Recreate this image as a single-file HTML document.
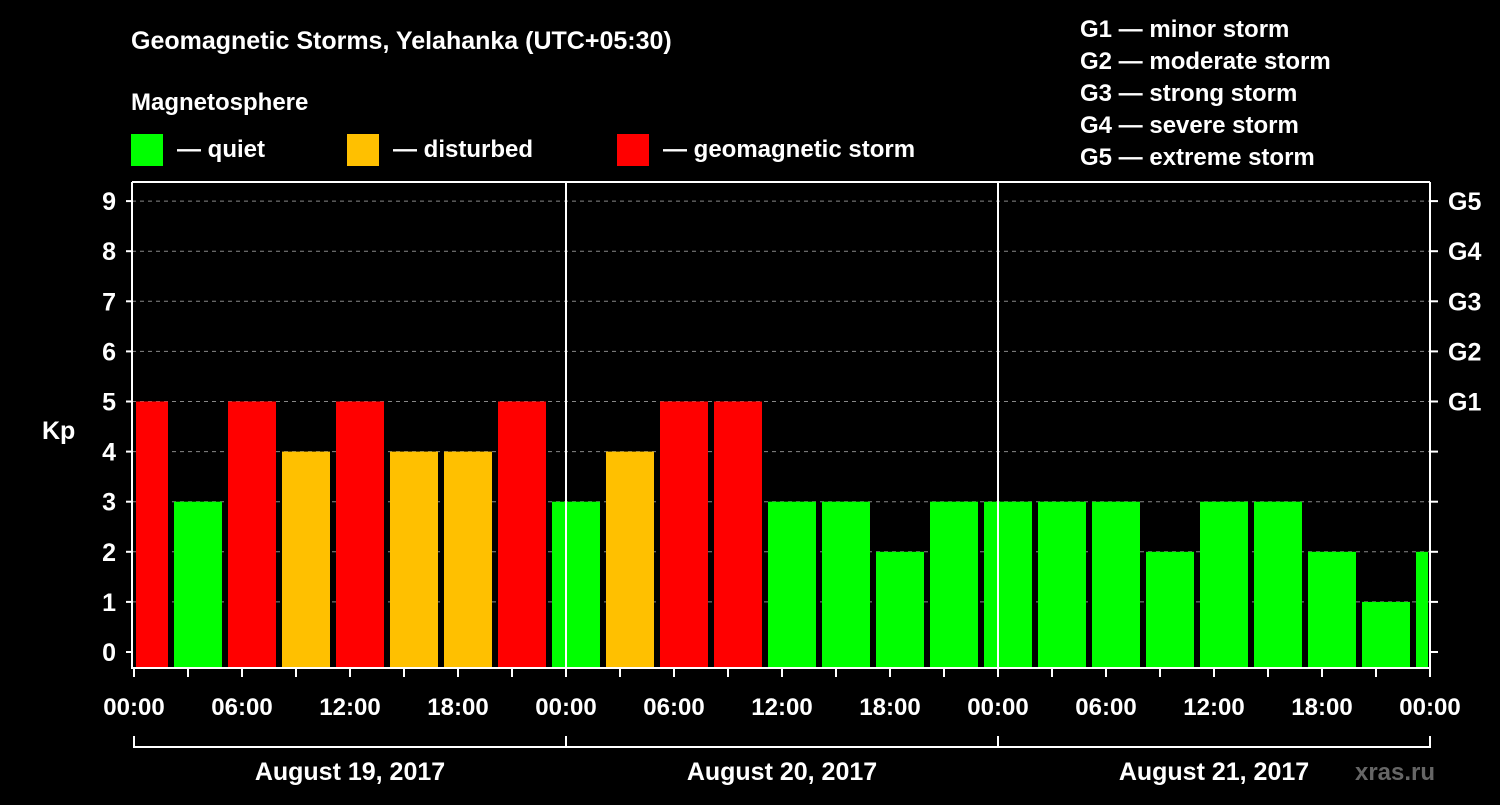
<!DOCTYPE html>
<html><head><meta charset="utf-8"><style>
body{margin:0;background:#000;}
svg text{font-family:"Liberation Sans",sans-serif;font-weight:bold;fill:#fff;}
</style></head><body>
<svg id="c" width="1500" height="800" xmlns="http://www.w3.org/2000/svg">
<rect width="1500" height="800" fill="#000"/>
<text x="131" y="49" font-size="25">Geomagnetic Storms, Yelahanka (UTC+05:30)</text>
<text x="131" y="110" font-size="24">Magnetosphere</text>
<rect x="131" y="134" width="32" height="32" fill="#00ff00"/>
<text x="177" y="157" font-size="24">— quiet</text>
<rect x="347" y="134" width="32" height="32" fill="#ffc000"/>
<text x="393" y="157" font-size="24">— disturbed</text>
<rect x="617" y="134" width="32" height="32" fill="#ff0000"/>
<text x="663" y="157" font-size="24">— geomagnetic storm</text>
<g font-size="24">
<text x="1080" y="37">G1 — minor storm</text>
<text x="1080" y="69">G2 — moderate storm</text>
<text x="1080" y="101">G3 — strong storm</text>
<text x="1080" y="133">G4 — severe storm</text>
<text x="1080" y="165">G5 — extreme storm</text>
</g>
<text x="42" y="439" font-size="25">Kp</text>
<g id="grid"></g><g id="bars"></g><g id="axes"></g>
<text x="1395" y="780" font-size="24" style="fill:#666" text-anchor="middle">xras.ru</text>
</svg>
<script>
const kpValues=[5,3,5,4,5,4,4,5,3,4,5,5,3,3,2,3,3,3,3,2,3,3,2,1,2];
const yTicks=[0,1,2,3,4,5,6,7,8,9];
const gLabels=["G1","G2","G3","G4","G5"];
const xTickLabels=["00:00","06:00","12:00","18:00","00:00","06:00","12:00","18:00","00:00","06:00","12:00","18:00","00:00"];
const dayLabels=["August 19, 2017","August 20, 2017","August 21, 2017"];
const NS="http://www.w3.org/2000/svg";
const L=132,R=1430,T=182,B=668;
const y=v=>652-50.1*v;
const xh=h=>134+18*h; // local hours since Aug 19 00:00
function mk(tag,attrs,parent,txt){const e=document.createElementNS(NS,tag);for(const k in attrs)e.setAttribute(k,attrs[k]);if(txt!==undefined)e.textContent=txt;document.getElementById(parent).appendChild(e);return e;}
// grid
yTicks.forEach(v=>{if(v>=1){const e=mk('line',{x1:L,x2:R,y1:y(v),y2:y(v),stroke:'#888','stroke-dasharray':'4,4','stroke-width':1},'grid');

}});
// bars
kpValues.forEach((v,i)=>{let x0=xh(-0.778+3*i),x1=x0+48;x0=Math.max(x0,L+4);x1=Math.min(x1,R-2);
const col=v>=5?'#ff0000':(v>=4?'#ffc000':'#00ff00');
const r=mk('rect',{x:x0,y:y(v),width:x1-x0,height:B-y(v),fill:col},'bars');

});
// axes
const ax=(a)=>mk('line',Object.assign({stroke:'#fff','stroke-width':2},a),'axes');
ax({x1:L,x2:L,y1:T,y2:B});ax({x1:R,x2:R,y1:T,y2:B});ax({x1:L,x2:R,y1:T,y2:T});ax({x1:L-1,x2:R+1,y1:B,y2:B});
[1,2].forEach(d=>ax({x1:xh(24*d),x2:xh(24*d),y1:T,y2:B}));
yTicks.forEach(v=>{ax({x1:L-6,x2:L,y1:y(v),y2:y(v)});ax({x1:R,x2:R+8,y1:y(v),y2:y(v)});
const t=mk('text',{x:116,y:y(v)+9,'font-size':25,'text-anchor':'end'},'axes',v);

});
gLabels.forEach((g,i)=>{const t=mk('text',{x:1448,y:y(5+i)+9,'font-size':25},'axes',g);

});
for(let h=0;h<=72;h+=3)ax({x1:xh(h),x2:xh(h),y1:B,y2:B+9});
xTickLabels.forEach((s,i)=>{const t=mk('text',{x:xh(6*i),y:715,'font-size':24,'text-anchor':'middle'},'axes',s);

});
ax({x1:134,x2:1430,y1:747,y2:747});
[0,1,2,3].forEach(d=>ax({x1:xh(24*d),x2:xh(24*d),y1:736,y2:748}));
dayLabels.forEach((s,i)=>{const t=mk('text',{x:xh(24*i+12),y:780,'font-size':25,'text-anchor':'middle'},'axes',s);

});
</script>
</body></html>
